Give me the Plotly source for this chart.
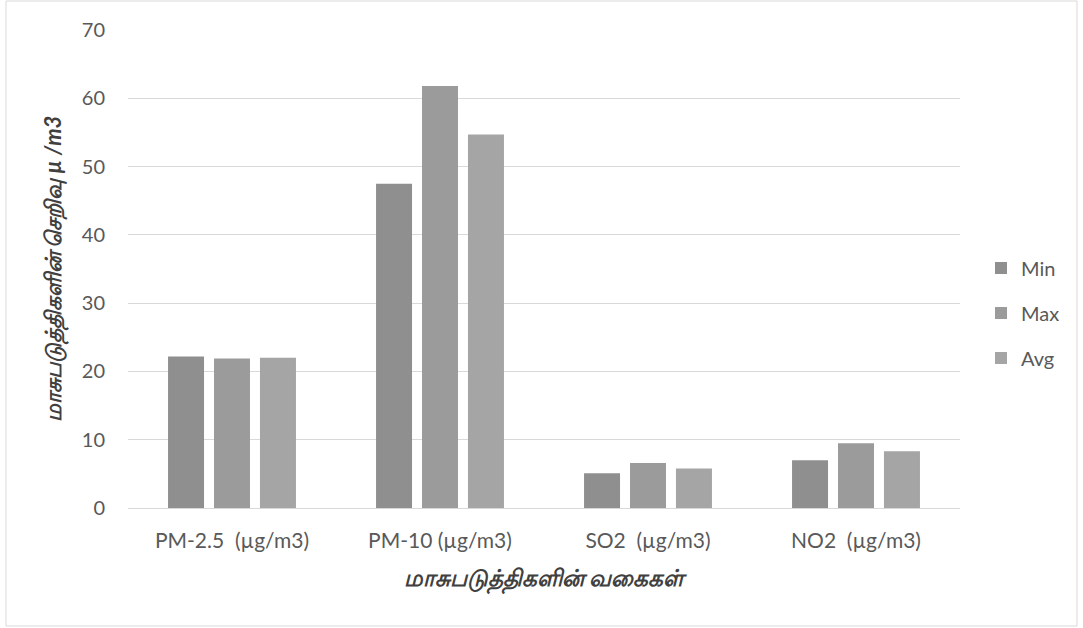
import plotly.graph_objects as go

NB = "\u00a0"
categories = ["PM-2.5" + NB + NB + "(µg/m3)", "PM-10 (µg/m3)", "SO2" + NB + NB + "(µg/m3)", "NO2" + NB + NB + "(µg/m3)"]
min_vals = [22.2, 47.5, 5.1, 7.0]
max_vals = [21.9, 61.8, 6.6, 9.5]
avg_vals = [22.0, 54.7, 5.8, 8.3]
series_names = ["Min", "Max", "Avg"]
series_colors = ["#8f8f8f", "#9b9b9b", "#a5a5a5"]
y_ticks = [0, 10, 20, 30, 40, 50, 60, 70]

y_title = "<b><i>மாசுபடுத்திகளின் செறிவு µ /m3</i></b>"
x_title = "<b><i>மாசுபடுத்திகளின் வகைகள்</i></b>"

W, H = 1083, 628
L, R, T, B = 128, 123, 30, 120
pw = W - L - R
ph = H - T - B

fig = go.Figure()
for name, vals, col in zip(series_names, [min_vals, max_vals, avg_vals], series_colors):
    fig.add_trace(go.Bar(x=categories, y=vals, name=name, marker_color=col,
                         marker_line_width=0, legendgroup=name))

font_main = "Lato, 'Open Sans', sans-serif"
fig.update_layout(
    width=W, height=H,
    margin=dict(l=L, r=R, t=T, b=B, autoexpand=False),
    paper_bgcolor="white", plot_bgcolor="white",
    barmode="group", bargap=0.337, bargroupgap=0.217,
    font=dict(family=font_main, size=20, color="#595959"),
    legend=dict(x=(981 - L) / pw, xanchor="left", y=(H - B - 313) / ph, yanchor="middle",
                tracegroupgap=16, font=dict(size=20, color="#595959"),
                itemwidth=30, bgcolor="rgba(0,0,0,0)"),
    xaxis=dict(showgrid=False, showline=False, ticks="", ticklabelstandoff=18,
               tickfont=dict(size=21),
               title=dict(text=x_title, standoff=18, font=dict(size=23, color="#404040"))),
    yaxis=dict(range=[0, 70], tickvals=y_ticks, showgrid=True, gridcolor="#d9d9d9",
               gridwidth=1, zeroline=True, zerolinecolor="#d9d9d9", zerolinewidth=1,
               showline=False, ticks="", ticklabelstandoff=22,
               title=dict(text=y_title, standoff=14, font=dict(size=22, color="#404040"))),
    shapes=[dict(type="rect", xref="paper", yref="paper",
                 x0=(6 - L) / pw, x1=(1077 - L) / pw,
                 y0=(H - B - 626) / ph, y1=(H - B - 1) / ph,
                 line=dict(color="#d9d9d9", width=1), fillcolor="rgba(0,0,0,0)", layer="below")],
)

fig.write_html("out.html", config={"displayModeBar": False},
               post_script="document.body.style.margin='0px';")
